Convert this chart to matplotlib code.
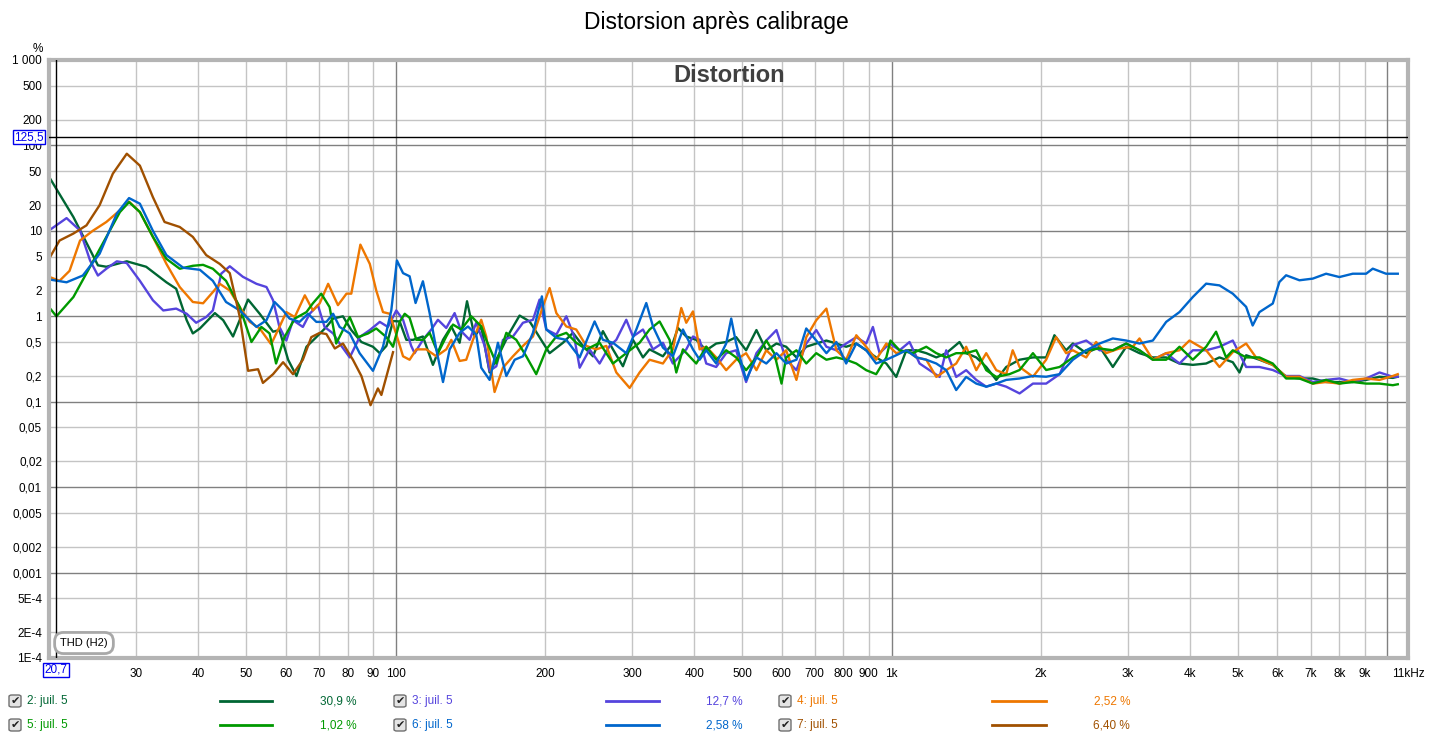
import matplotlib
matplotlib.use("Agg")
import matplotlib.pyplot as plt
import matplotlib.transforms as mtransforms
from matplotlib.patches import FancyBboxPatch

plt.rcParams['font.family'] = ['Liberation Sans', 'DejaVu Sans']

# ---------------------------------------------------------------- données (Hz, %)
f2 = [20.0, 22.4, 25.1, 26.1, 28.7, 31.4, 34.5, 36.1, 37.9, 39.0, 40.3, 43.2, 44.9, 47.0, 50.4, 53.2, 56.6, 58.3, 60.7, 63.1, 66.1, 69.2, 72.5, 74.8, 78.3, 81.4, 85.3, 90.0, 92.9, 95.8, 98.8,
      101.9, 105.1, 108.4, 113.5, 118.9, 124.6, 129.5, 134.6, 139.3, 144.3, 148.8, 154.7, 162.0, 169.7, 177.8, 186.3, 198.2, 204.4, 217.5, 227.8, 238.6, 250.0, 261.8, 274.3, 287.3, 301.0, 315.3, 325.1, 345.9, 362.3, 370.9, 385.5, 403.8,
      423, 443, 464, 486, 509, 534, 559, 586, 613, 643, 673, 705, 739, 774, 810, 849, 889, 931, 976, 1022, 1071, 1122, 1175, 1231, 1289, 1371, 1414, 1482, 1552, 1626,
      1703, 1812, 1928, 2050, 2130, 2249, 2321, 2469, 2627, 2794, 2973, 3162, 3364, 3579, 3807, 4050, 4309, 4584, 4876, 5030, 5188, 5519, 5871, 6246, 6645, 7069, 7520, 8000, 8511, 9056, 9636, 10250, 10490]
v2 = [43, 14.5, 3.95, 3.8, 4.4, 3.8, 2.5, 2.1, 0.9, 0.63, 0.72, 1.09, 0.9, 0.58, 1.57, 1.07, 0.66, 0.69, 0.31, 0.20, 0.44, 0.57, 0.75, 0.94, 1.0, 0.69, 0.5, 0.44, 0.37, 0.45, 0.88,
      0.87, 0.53, 0.53, 0.58, 0.27, 0.53, 0.76, 0.49, 1.5, 0.58, 0.76, 0.22, 0.37, 0.64, 1.02, 0.87, 0.49, 0.37, 0.49, 0.64, 0.45, 0.34, 0.67, 0.41, 0.26, 0.53, 0.33, 0.41, 0.34, 0.49, 0.73, 0.58, 0.53,
      0.40, 0.48, 0.50, 0.57, 0.40, 0.69, 0.40, 0.48, 0.44, 0.33, 0.44, 0.48, 0.52, 0.48, 0.44, 0.48, 0.40, 0.33, 0.28, 0.195, 0.40, 0.40, 0.37, 0.33, 0.37, 0.50, 0.37, 0.33, 0.255, 0.18,
      0.255, 0.31, 0.33, 0.33, 0.60, 0.40, 0.48, 0.37, 0.44, 0.255, 0.44, 0.37, 0.33, 0.33, 0.28, 0.27, 0.28, 0.33, 0.29, 0.22, 0.35, 0.31, 0.27, 0.196, 0.187, 0.187, 0.17, 0.17, 0.17, 0.18, 0.196, 0.19, 0.196]

f3 = [20.0, 21.7, 23.1, 24.2, 25.1, 26.1, 27.4, 28.7, 30.5, 32.4, 34.0, 36.1, 37.9, 39.6, 41.5, 42.8, 44.5, 46.3, 49.2, 52.4, 54.9, 56.6, 58.3, 60.2, 62.1, 65.0, 67.1, 69.7, 71.9, 74.8, 77.1, 80.8, 84.6, 88.7, 92.9, 96.5, 100.3,
      103.5, 107.5, 109.2, 113.5, 118.0, 121.7, 126.5, 131.5, 135.6, 141.0, 145.4, 151.2, 154.7, 159.6, 164.6, 172.4, 180.6, 189.2, 195.1, 201.3, 210.9, 220.9, 229.0, 235.0, 246.1, 257.8, 270.1, 278.6, 291.8, 301.0, 315.3, 330.3, 345.9, 362.3, 385.5, 397.7, 410.2,
      423, 443, 464, 486, 509, 534, 559, 586, 613, 643, 673, 705, 739, 774, 810, 849, 889, 917, 946, 991, 1038, 1087, 1139, 1193, 1250, 1289, 1350, 1414, 1482, 1552, 1626,
      1703, 1812, 1928, 2050, 2182, 2321, 2469, 2627, 2794, 2973, 3162, 3364, 3579, 3807, 4050, 4309, 4584, 4876, 5188, 5519, 5871, 6246, 6645, 7069, 7520, 8000, 8511, 9056, 9636, 10250, 10490]
v3 = [10.1, 14.1, 10.1, 4.5, 3.0, 3.6, 4.4, 4.2, 2.6, 1.54, 1.17, 1.23, 1.07, 0.84, 0.98, 1.17, 3.16, 3.85, 2.9, 2.4, 2.2, 1.54, 0.75, 0.52, 0.9, 0.75, 1.07, 1.35, 0.75, 0.63, 0.48, 0.33, 0.57, 0.69, 0.86, 0.75, 1.17,
      0.91, 0.45, 0.37, 0.53, 0.70, 0.91, 0.73, 1.09, 0.67, 0.53, 0.84, 0.45, 0.23, 0.26, 0.53, 0.58, 0.84, 0.91, 1.57, 0.70, 0.61, 1.0, 0.58, 0.25, 0.41, 0.28, 0.45, 0.53, 0.91, 0.58, 0.70, 0.41, 0.49, 0.28, 0.41, 0.58, 0.53,
      0.28, 0.255, 0.37, 0.40, 0.17, 0.37, 0.52, 0.69, 0.31, 0.234, 0.48, 0.69, 0.44, 0.40, 0.48, 0.57, 0.48, 0.75, 0.37, 0.48, 0.40, 0.50, 0.28, 0.234, 0.195, 0.40, 0.195, 0.234, 0.18, 0.15, 0.163,
      0.15, 0.125, 0.163, 0.163, 0.21, 0.46, 0.52, 0.40, 0.40, 0.48, 0.40, 0.31, 0.37, 0.28, 0.40, 0.40, 0.44, 0.52, 0.255, 0.255, 0.235, 0.20, 0.20, 0.17, 0.18, 0.187, 0.17, 0.187, 0.22, 0.196, 0.196]

f4 = [20.0, 21.0, 22.0, 23.1, 24.5, 26.1, 27.8, 29.0, 30.5, 32.4, 34.5, 36.7, 39.0, 40.9, 42.8, 44.2, 46.3, 48.5, 50.8, 53.2, 56.1, 58.3, 60.2, 62.6, 65.6, 68.1, 70.3, 73.1, 76.5, 79.6, 81.4, 84.9, 88.7, 91.4, 94.3, 97.3,
      101.1, 103.5, 106.7, 110.1, 115.3, 120.8, 126.5, 129.5, 134.6, 138.8, 143.2, 148.8, 152.3, 158.3, 164.6, 172.4, 180.6, 189.2, 198.2, 204.4, 210.9, 220.9, 231.3, 242.4, 253.9, 266.0, 278.6, 296.4, 310.4, 325.1, 345.9, 362.3, 376.7, 385.5, 397.7, 410.2,
      423, 443, 464, 486, 509, 534, 559, 586, 613, 643, 673, 705, 739, 774, 810, 849, 889, 931, 976, 1022, 1071, 1122, 1175, 1231, 1289, 1350, 1414, 1482, 1552, 1626,
      1703, 1755, 1812, 1928, 2050, 2147, 2249, 2321, 2469, 2585, 2707, 2881, 3065, 3162, 3364, 3579, 3807, 3987, 4309, 4584, 4876, 5188, 5432, 5691, 5871, 6246, 6645, 7069, 7520, 8000, 8511, 9056, 9636, 10250, 10490]
v4 = [2.9, 2.6, 3.4, 7.7, 10, 12.7, 17.4, 22, 16.6, 8.5, 4.1, 2.2, 1.47, 1.42, 1.92, 2.4, 2.0, 1.28, 0.86, 0.72, 0.47, 0.75, 1.12, 0.98, 1.76, 1.17, 1.42, 2.4, 1.35, 1.84, 1.84, 6.9, 4.1, 2.0, 1.12, 1.07,
      0.53, 0.34, 0.31, 0.41, 0.41, 0.34, 0.41, 0.53, 0.30, 0.31, 0.53, 0.91, 0.58, 0.13, 0.25, 0.34, 0.45, 0.58, 1.31, 2.14, 1.09, 0.76, 0.70, 0.45, 0.41, 0.45, 0.22, 0.145, 0.22, 0.31, 0.28, 0.41, 1.25, 0.84, 1.14, 0.41,
      0.44, 0.33, 0.234, 0.31, 0.37, 0.234, 0.40, 0.31, 0.40, 0.18, 0.57, 0.90, 1.23, 0.40, 0.31, 0.60, 0.44, 0.31, 0.48, 0.37, 0.40, 0.33, 0.31, 0.195, 0.234, 0.28, 0.44, 0.234, 0.37, 0.234,
      0.21, 0.40, 0.255, 0.196, 0.31, 0.57, 0.37, 0.40, 0.33, 0.50, 0.37, 0.42, 0.44, 0.55, 0.31, 0.37, 0.40, 0.52, 0.40, 0.255, 0.38, 0.48, 0.33, 0.29, 0.27, 0.196, 0.196, 0.163, 0.17, 0.163, 0.18, 0.187, 0.18, 0.20, 0.21]

f5 = [20.0, 20.7, 22.4, 24.2, 26.1, 27.8, 29.0, 30.5, 32.4, 34.5, 36.7, 39.0, 40.9, 42.8, 45.5, 48.5, 51.2, 53.6, 55.7, 57.4, 59.7, 62.6, 66.1, 68.1, 70.8, 73.6, 75.9, 78.3, 80.8, 84.0, 88.0, 91.4, 95.8, 98.8, 101.9, 104.3,
      106.7, 110.1, 113.5, 117.1, 121.7, 126.5, 130.5, 135.6, 142.1, 148.8, 152.3, 159.6, 167.2, 175.1, 183.4, 192.1, 201.3, 210.9, 220.9, 231.3, 242.4, 257.8, 274.3, 291.8, 310.4, 325.1, 340.6, 356.8, 368.1, 379.6, 403.8,
      423, 443, 464, 486, 509, 534, 559, 580, 600, 613, 643, 673, 705, 739, 774, 810, 849, 889, 931, 976, 995, 1038, 1104, 1175, 1231, 1289, 1350, 1414, 1482, 1552, 1626,
      1728, 1812, 1928, 2050, 2182, 2321, 2469, 2627, 2794, 2973, 3162, 3364, 3579, 3807, 4050, 4309, 4512, 4727, 4876, 5188, 5519, 5871, 6246, 6645, 7069, 7520, 8000, 8511, 9056, 9636, 10250, 10490]
v5 = [1.28, 1.0, 1.68, 3.8, 8.5, 16.6, 21.7, 16.6, 8.5, 4.7, 3.6, 3.9, 4.0, 3.6, 2.6, 1.28, 0.5, 0.75, 0.63, 0.28, 0.57, 0.94, 1.12, 1.42, 1.84, 1.28, 0.48, 0.69, 0.98, 0.57, 0.63, 0.72, 0.57, 0.44, 0.86, 1.07,
      0.96, 0.53, 0.53, 0.64, 0.37, 0.58, 0.80, 0.70, 1.0, 0.76, 0.53, 0.28, 0.64, 0.53, 0.34, 0.21, 0.41, 0.58, 0.64, 0.49, 0.41, 0.49, 0.28, 0.37, 0.49, 0.70, 0.87, 0.53, 0.22, 0.41, 0.28,
      0.44, 0.31, 0.40, 0.33, 0.234, 0.33, 0.52, 0.37, 0.163, 0.33, 0.40, 0.28, 0.37, 0.31, 0.33, 0.31, 0.28, 0.234, 0.21, 0.33, 0.52, 0.40, 0.37, 0.44, 0.37, 0.33, 0.37, 0.37, 0.40, 0.234, 0.195,
      0.21, 0.235, 0.37, 0.235, 0.255, 0.33, 0.40, 0.42, 0.40, 0.48, 0.40, 0.31, 0.31, 0.44, 0.31, 0.44, 0.66, 0.33, 0.40, 0.33, 0.33, 0.28, 0.187, 0.187, 0.163, 0.18, 0.163, 0.17, 0.163, 0.163, 0.156, 0.16]

f6 = [20.0, 21.7, 23.4, 25.3, 27.4, 29.0, 30.5, 32.4, 34.5, 37.3, 40.3, 42.8, 45.5, 48.5, 52.4, 54.9, 57.0, 59.3, 61.1, 64.0, 66.6, 69.2, 72.5, 74.8, 77.1, 80.8, 84.6, 90.0, 94.3, 98.0, 100.6, 103.5, 106.7,
      109.7, 113.5, 117.1, 120.8, 124.6, 128.5, 134.6, 139.9, 145.4, 148.8, 154.7, 160.8, 167.2, 173.8, 180.6, 189.2, 197.2, 201.3, 210.9, 220.9, 235.0, 251.9, 261.8, 274.3, 291.8, 305.7, 320.2, 330.3, 345.9, 362.3, 379.6, 397.7, 410.2,
      423, 443, 464, 475, 486, 509, 534, 559, 586, 613, 643, 673, 705, 739, 774, 810, 849, 889, 931, 976, 1022, 1071, 1122, 1175, 1231, 1289, 1350, 1414, 1482, 1552, 1626,
      1703, 1812, 1928, 2050, 2182, 2321, 2469, 2627, 2794, 2973, 3162, 3364, 3579, 3807, 4050, 4309, 4584, 4876, 5188, 5348, 5519, 5871, 6054, 6246, 6645, 7069, 7520, 8000, 8511, 9056, 9340, 9934, 10490]
v6 = [2.7, 2.5, 3.0, 5.4, 15.9, 24.2, 20.8, 10, 5.2, 3.7, 3.5, 2.6, 1.47, 1.17, 0.75, 0.9, 1.47, 1.17, 0.94, 0.86, 1.07, 0.86, 0.86, 1.07, 0.75, 0.63, 0.37, 0.23, 0.44, 1.17, 4.5, 3.2, 2.94,
      1.43, 2.57, 1.09, 0.41, 0.17, 0.41, 0.64, 0.76, 0.61, 0.25, 0.18, 0.49, 0.2, 0.31, 0.34, 0.64, 1.71, 0.70, 0.56, 0.53, 0.33, 0.87, 0.53, 0.49, 0.37, 0.70, 1.43, 0.76, 0.43, 0.34, 0.70, 0.41, 0.31,
      0.40, 0.28, 0.48, 0.94, 0.48, 0.18, 0.33, 0.28, 0.37, 0.28, 0.31, 0.72, 0.52, 0.37, 0.50, 0.28, 0.48, 0.40, 0.28, 0.31, 0.35, 0.40, 0.33, 0.31, 0.28, 0.234, 0.137, 0.195, 0.163, 0.15, 0.163,
      0.18, 0.187, 0.20, 0.196, 0.21, 0.31, 0.40, 0.48, 0.55, 0.52, 0.48, 0.52, 0.86, 1.12, 1.68, 2.41, 2.30, 1.84, 1.29, 0.78, 1.12, 1.41, 2.52, 3.02, 2.64, 2.76, 3.15, 2.88, 3.15, 3.15, 3.61, 3.15, 3.15]

f7 = [20.0, 21.0, 22.4, 23.8, 25.3, 26.9, 28.7, 30.5, 32.4, 34.2, 36.7, 39.0, 41.5, 44.2, 46.3, 48.5, 50.4, 52.8, 54.0, 56.6,
      59.3, 62.1, 65.0, 67.6, 70.3, 72.5, 75.4, 78.3, 82.0, 85.3, 89.0, 92.1, 93.6, 98.8]
v7 = [4.7, 7.7, 9.3, 11.6, 20, 46.7, 80, 58, 24.8, 12.7, 11.1, 8.5, 5.2, 4.1, 3.2, 0.98, 0.23, 0.24, 0.166, 0.21,
      0.29, 0.21, 0.31, 0.57, 0.64, 0.62, 0.42, 0.48, 0.31, 0.2, 0.091, 0.143, 0.12, 0.38]

noms = ['2: juil. 5', '3: juil. 5', '4: juil. 5', '5: juil. 5', '6: juil. 5', '7: juil. 5']
valeurs = ['30,9 %', '12,7 %', '2,52 %', '1,02 %', '2,58 %', '6,40 %']
couleurs = ['#006633', '#5544dd', '#ee7700', '#009900', '#0066cc', '#a05000']
courbes = [(f2, v2), (f3, v3), (f4, v4), (f5, v5), (f6, v6), (f7, v7)]

yticks = [1e-4, 2e-4, 5e-4, 1e-3, 2e-3, 5e-3, 0.01, 0.02, 0.05, 0.1, 0.2, 0.5, 1, 2, 5, 10, 20, 50, 100, 200, 500, 1000]
ylabels = ['1E-4', '2E-4', '5E-4', '0,001', '0,002', '0,005', '0,01', '0,02', '0,05', '0,1', '0,2', '0,5',
           '1', '2', '5', '10', '20', '50', '100', '200', '500', '1 000']
xticks = [30, 40, 50, 60, 70, 80, 90, 100, 200, 300, 400, 500, 600, 700, 800, 900,
          1000, 2000, 3000, 4000, 5000, 6000, 7000, 8000, 9000, 11000]
xlabels = ['30', '40', '50', '60', '70', '80', '90', '100', '200', '300', '400', '500', '600', '700', '800', '900',
           '1k', '2k', '3k', '4k', '5k', '6k', '7k', '8k', '9k', '11kHz']

curseur_f = 20.7
curseur_v = 125.5

# ---------------------------------------------------------------- figure
W, H = 1433, 740
fig = plt.figure(figsize=(W / 100, H / 100), dpi=100)
fig.patch.set_facecolor('white')

def px(x):
    return x / W

def py(y):
    return 1 - y / H

ax = fig.add_axes([px(49), py(658), (1408 - 49) / W, (658 - 60) / H])
ax.set_xscale('log')
ax.set_yscale('log')
ax.set_xlim(20, 11000)
ax.set_ylim(1e-4, 1000)

# grille
for dec in [10, 100, 1000]:
    for m in range(2, 10):
        if 20 < m * dec < 11000:
            ax.axvline(m * dec, color='#c4c4c4', lw=1, zorder=0)
for xv in [100, 1000, 10000]:
    ax.axvline(xv, color='#808080', lw=1, zorder=0.5)
for e in range(-4, 3):
    for m in (2, 5):
        ax.axhline(m * 10.0 ** e, color='#c4c4c4', lw=1, zorder=0)
for e in range(-4, 4):
    ax.axhline(10.0 ** e, color='#808080', lw=1, zorder=0.5)

# courbes
for (ff, vv), c in zip(courbes, couleurs):
    ax.plot(ff, vv, color=c, lw=1.7, solid_joinstyle='round', zorder=2)

# curseurs
ax.axhline(curseur_v, color='black', lw=1, zorder=3)
ax.axvline(curseur_f, color='black', lw=1, zorder=3)

ax.set_yticks(yticks)
ax.set_yticklabels(ylabels)
ax.set_xticks(xticks)
ax.set_xticklabels(xlabels)
ax.minorticks_off()
ax.tick_params(axis='both', length=0, labelsize=8.5, colors='black')
ax.tick_params(axis='y', pad=5)
ax.tick_params(axis='x', pad=7)

for sp in ax.spines.values():
    sp.set_color('#b4b4b4')
    sp.set_linewidth(3)

# boîtes bleues des curseurs
trans_y = mtransforms.blended_transform_factory(fig.transFigure, ax.transData)
ax.text(px(29), curseur_v, '125,5', transform=trans_y, ha='center', va='center', fontsize=8.5,
        color='#0000ee', zorder=10,
        bbox=dict(boxstyle='square,pad=0.12', fc='white', ec='#0000ee', lw=1))
trans_x = mtransforms.blended_transform_factory(ax.transData, fig.transFigure)
ax.text(curseur_f, py(670), '20,7', transform=trans_x, ha='center', va='center', fontsize=8.5,
        color='#0000ee', zorder=10,
        bbox=dict(boxstyle='square,pad=0.12', fc='white', ec='#0000ee', lw=1))

# textes
fig.text(px(716), py(23), 'Distorsion après calibrage', ha='center', va='center', fontsize=16.5)
ax.text(px(729), py(76), 'Distortion', transform=fig.transFigure, ha='center', va='center',
        fontsize=17, fontweight='bold', color='#404040')
fig.text(px(38), py(49), '%', ha='center', va='center', fontsize=8.5)
ax.text(px(84), py(643), 'THD (H2)', transform=fig.transFigure, ha='center', va='center', fontsize=8,
        zorder=10, bbox=dict(boxstyle='round,pad=0.5,rounding_size=0.8', fc='white', ec='#a8a8a8', lw=2))

# légende
col_x = [8, 393, 778]
ligne_x = [(220, 272), (606, 659), (992, 1046)]
val_x = [357, 743, 1130]
rang_y = [701, 725]
for i, (nom, val, c) in enumerate(zip(noms, valeurs, couleurs)):
    col = i % 3
    rg = i // 3
    y = rang_y[rg]
    x0 = col_x[col]
    boite = FancyBboxPatch((px(x0 + 1), py(y + 6)), px(12), 12 / H,
                           boxstyle='round,pad=0,rounding_size=0.002',
                           transform=fig.transFigure, fc='#e4e4e4', ec='#707070', lw=1)
    fig.add_artist(boite)
    fig.text(px(x0 + 7), py(y), '✔', ha='center', va='center', fontsize=8, color='#202020',
             family=['DejaVu Sans'])
    fig.text(px(x0 + 19), py(y), nom, ha='left', va='center', fontsize=8.5, color=c)
    xa, xb = ligne_x[col]
    fig.add_artist(plt.Line2D([px(xa), px(xb)], [py(y), py(y)], color=c, lw=2,
                              transform=fig.transFigure))
    fig.text(px(val_x[col]), py(y), val, ha='right', va='center', fontsize=8.5, color=c)

fig.savefig('out.png', dpi=100, facecolor='white')
